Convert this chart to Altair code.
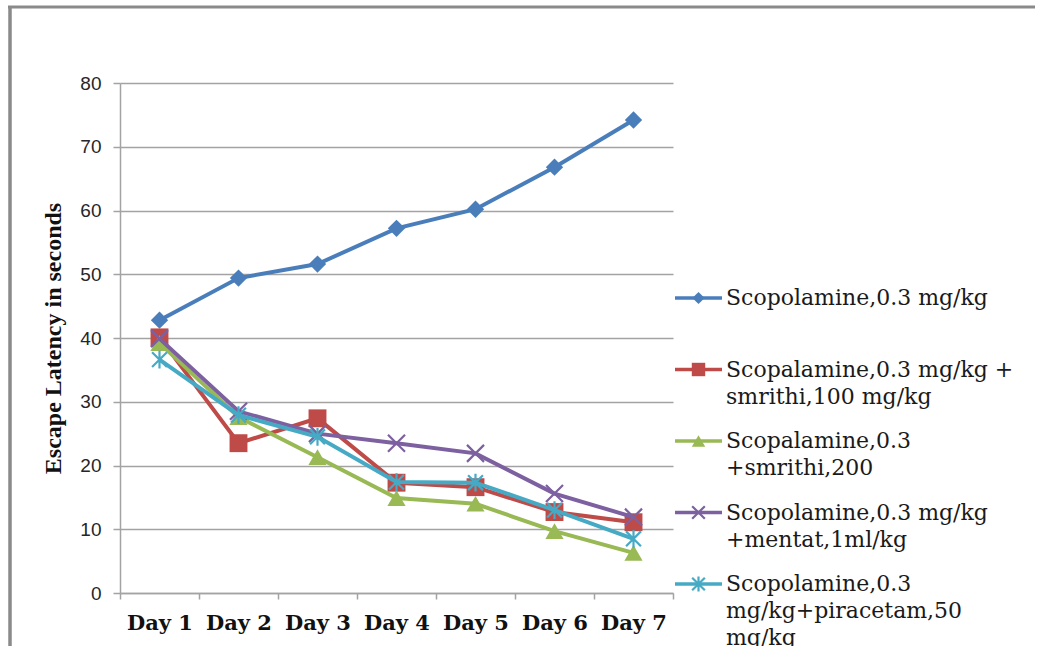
import altair as alt
import pandas as pd

# Training days (x axis)
days = ["Day 1", "Day 2", "Day 3", "Day 4", "Day 5", "Day 6", "Day 7"]

# Treatment groups: key, legend label (multi-line), colour, marker
series_keys = ["scop", "smrithi100", "smrithi200", "mentat", "piracetam"]
series_labels = [
    "Scopolamine,0.3 mg/kg",
    "Scopalamine,0.3 mg/kg +\nsmrithi,100 mg/kg",
    "Scopalamine,0.3\n+smrithi,200",
    "Scopolamine,0.3 mg/kg\n+mentat,1ml/kg",
    "Scopolamine,0.3\nmg/kg+piracetam,50\nmg/kg",
]
series_colors = ["#4A7EBB", "#BE4B48", "#98B954", "#7D60A0", "#46AAC5"]
X_PATH = "M-1,-1L1,1M-1,1L1,-1"
STAR_PATH = "M-1,-1L1,1M-1,1L1,-1M0,-1.2L0,1.2"
series_shapes = ["diamond", "square", "triangle-up", X_PATH, STAR_PATH]
series_filled = [True, True, True, False, False]
marker_sizes = [300, 320, 330, 290, 220]
legend_marker_sizes = [150, 180, 180, 160, 160]

# Escape latency (seconds) per day
scopolamine = [42.8, 49.4, 51.6, 57.2, 60.2, 66.8, 74.2]
smrithi_100 = [40.1, 23.5, 27.4, 17.3, 16.6, 12.7, 11.1]
smrithi_200 = [39.2, 27.6, 21.3, 14.9, 14.0, 9.7, 6.3]
mentat = [39.9, 28.5, 25.0, 23.5, 21.9, 15.6, 11.9]
piracetam = [36.6, 27.9, 24.5, 17.4, 17.3, 13.0, 8.5]
series_values = [scopolamine, smrithi_100, smrithi_200, mentat, piracetam]

rows = []
for key, vals in zip(series_keys, series_values):
    for d, v in zip(days, vals):
        rows.append({"series": key, "day": d, "latency": v})
df = pd.DataFrame(rows)

legend_df = pd.DataFrame({
    "series": series_keys,
    "label": series_labels,
    "row": list(range(len(series_keys))),
})

GRID = "#a3a3a3"

x_enc = alt.X(
    "day:N", sort=days, title=None,
    scale=alt.Scale(type="band", paddingInner=0, paddingOuter=0),
    axis=alt.Axis(
        labelAngle=0, tickBand="extent", grid=False,
        domainColor=GRID, domainWidth=1.5, tickColor=GRID, tickWidth=1.5, tickSize=6,
        labelFont="DejaVu Serif", labelFontWeight="bold", labelFontSize=21,
        labelColor="#111111", labelPadding=13,
    ),
)
y_enc = alt.Y(
    "latency:Q",
    scale=alt.Scale(domain=[0, 80], nice=False, zero=True),
    axis=alt.Axis(
        values=[0, 10, 20, 30, 40, 50, 60, 70, 80],
        grid=True, gridColor=GRID, gridWidth=1.5,
        domainColor=GRID, domainWidth=1.5, tickColor=GRID, tickWidth=1.5, tickSize=7,
        labelFont="Liberation Sans", labelFontSize=19, labelColor="#262626", labelPadding=12,
        title="Escape Latency in seconds",
        titleFont="Liberation Serif", titleFontSize=24, titleFontWeight="bold",
        titleColor="#111111", titleAngle=270, titleX=-67, titleY=255,
        titleAlign="center", titleBaseline="middle",
    ),
)
color_enc = alt.Color(
    "series:N", scale=alt.Scale(domain=series_keys, range=series_colors), legend=None
)
shape_enc = alt.Shape(
    "series:N", scale=alt.Scale(domain=series_keys, range=series_shapes), legend=None
)

base = alt.Chart(df).encode(x=x_enc, y=y_enc, color=color_enc, shape=shape_enc)


def marker(chart, filled, size):
    if filled:
        return chart.mark_point(filled=True, opacity=1, size=size, strokeWidth=0)
    return chart.mark_point(filled=False, opacity=1, size=size, strokeWidth=2.2)


# Each series drawn in turn: line, then its markers on top
series_layers = []
for i, key in enumerate(series_keys):
    sub = base.transform_filter(alt.FieldEqualPredicate(field="series", equal=key))
    series_layers.append(sub.mark_line(strokeWidth=4))
    series_layers.append(marker(sub, series_filled[i], marker_sizes[i]))

# Outer frame of the figure
one = pd.DataFrame({"k": [0]})
frame_top = alt.Chart(one).mark_rule(color="#8a8a8a", strokeWidth=3).encode(
    x=alt.value(-112), x2=alt.value(915), y=alt.value(-76)
)
frame_left = alt.Chart(one).mark_rule(color="#8a8a8a", strokeWidth=3.5).encode(
    x=alt.value(-110), y=alt.value(-77), y2=alt.value(600)
)

main = alt.layer(frame_top, frame_left, *series_layers)

# Legend drawn beside the plot: line sample + marker + label
leg_y = alt.Y(
    "row:O", axis=None,
    scale=alt.Scale(type="point", range=[215, 501], padding=0),
)
leg_base = alt.Chart(legend_df).encode(y=leg_y)
leg_layers = []
for i, key in enumerate(series_keys):
    sub = leg_base.transform_filter(alt.FieldEqualPredicate(field="series", equal=key))
    leg_layers.append(
        sub.mark_rule(strokeWidth=3.5).encode(
            x=alt.value(555), x2=alt.value(602), color=color_enc
        )
    )
    leg_layers.append(
        marker(sub, series_filled[i], legend_marker_sizes[i]).encode(
            x=alt.value(578.5), color=color_enc, shape=shape_enc
        )
    )
leg_text = leg_base.mark_text(
    align="left", baseline="top", dy=-10, lineBreak="\n", lineHeight=27,
    font="DejaVu Serif", fontSize=22, color="#1a1a1a",
).encode(x=alt.value(606), text="label:N")

legend = alt.layer(*leg_layers, leg_text)

chart = (
    alt.layer(main, legend)
    .resolve_scale(y="independent")
    .properties(
        width=553,
        height=510,
        autosize=alt.AutoSizeParams(type="none"),
        padding={"left": 120, "top": 83, "right": 365, "bottom": 53},
        background="white",
    )
    .configure_view(stroke=None)
)

chart.save("out.html", embed_options={"renderer": "svg", "actions": False})
